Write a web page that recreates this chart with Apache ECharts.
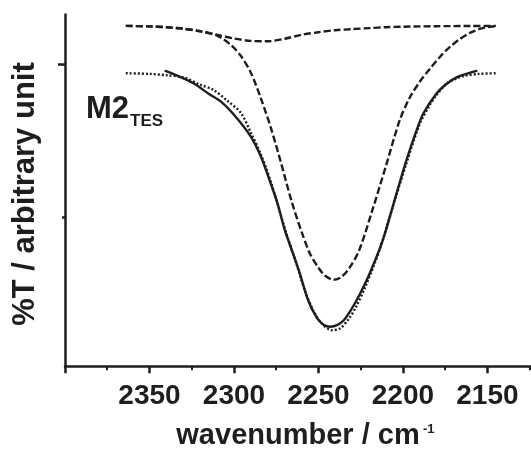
<!DOCTYPE html>
<html>
<head>
<meta charset="utf-8">
<script src="https://cdn.jsdelivr.net/npm/echarts@6/dist/echarts.min.js"></script>
<style>
html,body{margin:0;padding:0;background:#fff;}
#chart{width:531px;height:449px;}
</style>
</head>
<body>
<div id="chart"></div>
<script>
// Tick labels (wavenumber, cm-1)
var majorTicks = [2400, 2350, 2300, 2250, 2200, 2150];
var majorLabels = [2350, 2300, 2250, 2200, 2150];
var minorTicks = [2375, 2325, 2275, 2225, 2175, 2125];
var yTickMajor = [302.2];
var yTickMinor = [149];

// Measured spectrum (solid): [wavenumber, %T arbitrary]
var measured = [
  [2341,296],[2335,292],[2324,283.4],[2315,273],[2307,264],[2298,248],[2290,230],
  [2284,210],[2278,182],[2274,162],[2270,137],[2265,113],[2261,93],[2256,66],
  [2251,49],[2247,42],[2243,40],[2239,41.5],[2235,46.5],[2231,56],[2226,71],
  [2220,92],[2212,126],[2204,172],[2198,206],[2192,236],[2188,253],[2180,273.5],
  [2174,283],[2168,289.5],[2162,293],[2156,296]
];
// Fitted sum (dotted)
var fitted = [
  [2364,293.5],[2350,292.8],[2340,291.5],[2330,289.4],[2320,282],[2312,276.7],
  [2304,266],[2296,254],[2290,234],[2284,212],[2278,184],[2272,150],[2268,128],
  [2263,103],[2258,76],[2253,56],[2248,43],[2242,36.5],[2237,38.5],[2232,48],
  [2228,59],[2222,81],[2214,116],[2206,160],[2198,203],[2190,243],[2184,262],
  [2180,272],[2174,283.4],[2168,288.5],[2164,290.7],[2155,292.8],[2144,293.5]
];
// Component band 1 (dashed, weak broad)
var band1 = [
  [2364,340.8],[2350,340.3],[2340,339.5],[2330,338],[2320,335.5],[2310,332],
  [2300,328.2],[2290,325.8],[2280,325.4],[2270,328],[2260,331.9],[2250,334.5],
  [2240,336.5],[2230,337.6],[2220,338.6],[2210,339.5],[2200,340],[2180,340.5],
  [2160,340.7],[2145,340.8]
];
// Component band 2 (dashed, main)
var band2 = [
  [2364,340.8],[2350,340.3],[2340,339.5],[2330,338],[2320,335.5],[2310,331],
  [2302,322],[2296,311],[2290,294],[2284,268],[2278,238],[2272,203],[2266,166],
  [2260,135],[2255,113],[2250,99],[2246,91],[2241,87],[2237,89],[2232,98],
  [2226,116],[2218,157],[2210,201],[2202,246],[2196,269],[2190,285],[2184,298],
  [2178,310],[2172,320],[2166,328],[2160,334],[2154,338],[2148,340],[2144,340.6]
];

var ink = '#1e1e1e';
var chart = echarts.init(document.getElementById('chart'), null, {renderer:'canvas'});
var font = 'Liberation Sans, Arial, Helvetica, sans-serif';

function lineSeries(data, type, w) {
  return {
    type: 'line', data: data, smooth: 0.3, symbol: 'none',
    xAxisIndex: 0, yAxisIndex: 0,
    lineStyle: {color: ink, width: w, type: type},
    z: 3
  };
}

chart.setOption({
  animation: false,
  backgroundColor: '#fff',
  grid: {left: 65, right: 0, top: 14.5, bottom: 82.3},
  xAxis: [{
    type: 'value', inverse: true, min: 2124.2, max: 2400,
    axisLine: {show: true, onZero: false, lineStyle: {color: ink, width: 2.5}},
    axisTick: {show: true, length: 6.5, customValues: majorTicks, lineStyle: {color: ink, width: 2.5}},
    axisLabel: {show: true, customValues: majorLabels, margin: 16, color: ink,
      fontSize: 28, fontWeight: 'bold', fontFamily: font,
      formatter: function (v) { return String(v); }},
    splitLine: {show: false}
  }, {
    type: 'value', inverse: true, min: 2124.2, max: 2400, position: 'bottom',
    axisLine: {show: false},
    axisTick: {show: true, length: 3.5, customValues: minorTicks, lineStyle: {color: ink, width: 2}},
    axisLabel: {show: false},
    splitLine: {show: false}
  }],
  yAxis: [{
    type: 'value', min: 0, max: 352.2,
    axisLine: {show: true, onZero: false, lineStyle: {color: ink, width: 2.5}},
    axisTick: {show: true, length: 7, customValues: yTickMajor, lineStyle: {color: ink, width: 2.5}},
    axisLabel: {show: false},
    splitLine: {show: false}
  }, {
    type: 'value', min: 0, max: 352.2, position: 'left',
    axisLine: {show: false},
    axisTick: {show: true, length: 3, customValues: yTickMinor, lineStyle: {color: ink, width: 2.5}},
    axisLabel: {show: false},
    splitLine: {show: false}
  }],
  series: [
    lineSeries(band1, [7, 3], 2.4),
    lineSeries(band2, [7, 3], 2.4),
    lineSeries(fitted, [2, 2], 2.4),
    lineSeries(measured, 'solid', 2.4)
  ],
  graphic: [
    {type: 'text', x: 86, y: 109, style: {text: 'M2', fill: ink, font: 'bold 31px ' + font, verticalAlign: 'middle', align: 'left'}},
    {type: 'text', x: 130, y: 121, style: {text: 'TES', fill: ink, font: 'bold 17px ' + font, verticalAlign: 'middle', align: 'left'}},
    {type: 'text', x: 25, y: 194, rotation: Math.PI / 2, style: {text: '%T / arbitrary unit', fill: ink, font: 'bold 31px ' + font, verticalAlign: 'middle', align: 'center'}},
    {type: 'text', x: 298, y: 436, style: {text: 'wavenumber / cm', fill: ink, font: 'bold 29px ' + font, verticalAlign: 'middle', align: 'center'}},
    {type: 'text', x: 423, y: 429, style: {text: '-1', fill: ink, font: 'bold 13px ' + font, verticalAlign: 'middle', align: 'left'}}
  ]
});
</script>
</body>
</html>
